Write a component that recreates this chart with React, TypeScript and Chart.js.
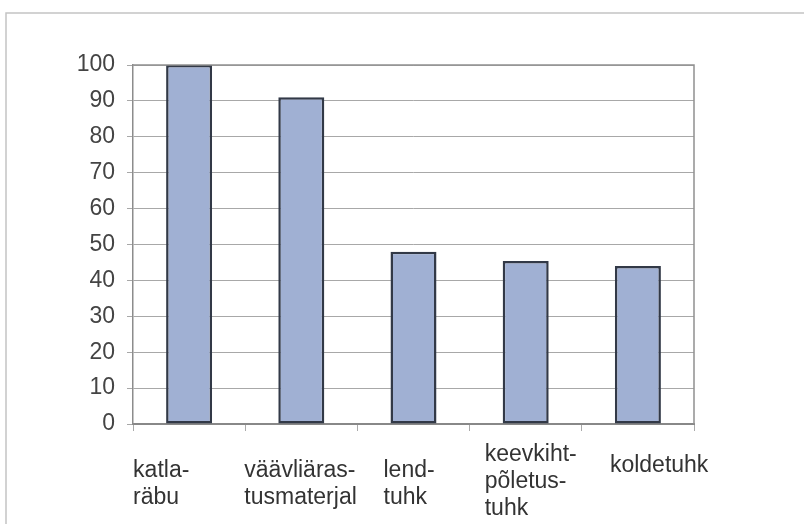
import React, { useEffect, useRef } from "react";
import { Chart, registerables } from "chart.js";

Chart.register(...registerables);

const categories: string[][] = [
  ["katla-", "räbu"],
  ["väävliäras-", "tusmaterjal"],
  ["lend-", "tuhk"],
  ["keevkiht-", "põletus-", "tuhk"],
  ["koldetuhk"],
];
const values: number[] = [100, 91, 48, 45.4, 44];
const yTicks = { min: 0, max: 100, step: 10 };

const FONT = "'Liberation Sans', Arial, sans-serif";
// label layout (horizontal shift from category centre, first baseline below axis)
const LABEL_DX = [-56, -57, -30, -41, -28];
const LABEL_DY = [53, 53, 53, 37, 48];
const LINE_H = 27;

const framePlugin = {
  id: "frame",
  beforeDraw(chart: any) {
    const { ctx } = chart;
    ctx.save();
    ctx.fillStyle = "#ffffff";
    ctx.fillRect(0, 0, chart.width, chart.height);
    ctx.strokeStyle = "#c4c4c4";
    ctx.lineWidth = 1.5;
    ctx.beginPath();
    ctx.moveTo(chart.width, 13);
    ctx.lineTo(6, 13);
    ctx.lineTo(6, chart.height);
    ctx.stroke();
    ctx.restore();
  },
  afterDatasetsDraw(chart: any) {
    const { ctx, chartArea } = chart;
    ctx.save();
    ctx.strokeStyle = "#909090";
    ctx.lineWidth = 1.5;
    ctx.beginPath();
    ctx.moveTo(chartArea.left, chartArea.top);
    ctx.lineTo(chartArea.right, chartArea.top);
    ctx.lineTo(chartArea.right, chartArea.bottom);
    ctx.stroke();
    ctx.restore();
  },
  afterDraw(chart: any) {
    const { ctx, chartArea } = chart;
    const xs = chart.scales.x;
    ctx.save();
    ctx.font = `23px ${FONT}`;
    ctx.fillStyle = "#333333";
    ctx.textAlign = "left";
    ctx.textBaseline = "alphabetic";
    categories.forEach((lines, i) => {
      const x = xs.getPixelForValue(i) + LABEL_DX[i];
      const y0 = chartArea.bottom + LABEL_DY[i];
      lines.forEach((line, j) => ctx.fillText(line, x, y0 + j * LINE_H));
    });
    ctx.restore();
  },
};

export default function App() {
  const ref = useRef<HTMLCanvasElement | null>(null);
  useEffect(() => {
    if (!ref.current) return;
    const chart = new Chart(ref.current, {
      type: "bar",
      data: {
        labels: categories,
        datasets: [
          {
            data: values,
            backgroundColor: "#a0b0d3",
            borderColor: "#323947",
            borderWidth: 2.5,
            borderSkipped: false,
            barPercentage: 0.41,
            categoryPercentage: 1,
          },
        ],
      },
      options: {
        animation: false,
        responsive: false,
        layout: { padding: { left: 0, top: 65, right: 110, bottom: 0 } },
        plugins: { legend: { display: false }, tooltip: { enabled: false } },
        scales: {
          x: {
            offset: true,
            grid: {
              display: true,
              drawOnChartArea: false,
              drawTicks: true,
              tickLength: 7,
              offset: true,
              color: "#aaaaaa",
            },
            border: { color: "#888888", width: 2 },
            ticks: { display: false },
            afterFit: (scale: any) => {
              scale.height = 100;
            },
          },
          y: {
            min: yTicks.min,
            max: yTicks.max,
            grid: { color: "#a8a8a8", lineWidth: 1, tickLength: 6 },
            border: { color: "#8c8c8c", width: 1.5 },
            ticks: {
              stepSize: yTicks.step,
              padding: 12,
              color: "#444444",
              font: { family: FONT, size: 23 },
            },
            afterFit: (scale: any) => {
              scale.width = 133;
            },
          },
        },
      },
      plugins: [framePlugin],
    });
    return () => chart.destroy();
  }, []);
  return (
    <div style={{ position: "fixed", left: 0, top: 0, width: 804, height: 524 }}>
      <canvas ref={ref} width={804} height={524} />
    </div>
  );
}
